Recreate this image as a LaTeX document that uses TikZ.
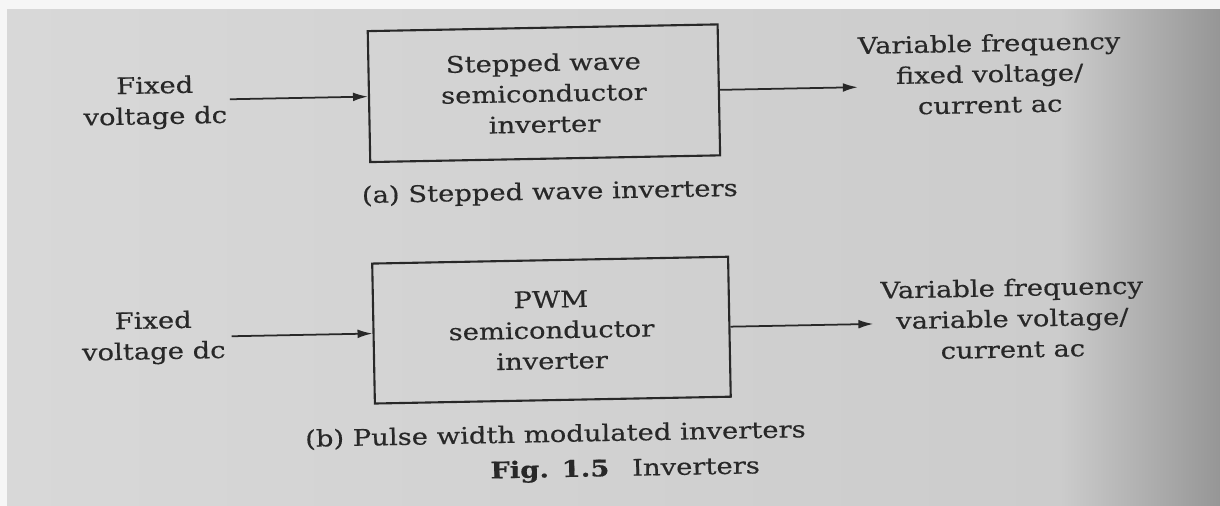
\documentclass[tikz,border=0pt]{standalone}
\usepackage{fontspec}
\setmainfont{DejaVu Serif}[FakeStretch=1.2, FakeBold=0.4]
\usetikzlibrary{arrows.meta}
\definecolor{tinta}{RGB}{40,40,40}
\definecolor{papel}{RGB}{216,216,216}
\definecolor{papelmedio}{RGB}{204,204,204}
\definecolor{papeloscuro}{RGB}{150,150,150}
\definecolor{margen}{RGB}{246,246,246}
\tikzset{
  bloque/.style={draw=tinta, line width=1.2pt, align=center},
  texto/.style={align=center},
  flecha/.style={draw=tinta, line width=1pt, -{Latex[length=8.5pt,width=5pt]}}
}
\begin{document}
\begin{tikzpicture}[x=0.02cm, y=-0.02cm, font=\fontsize{13}{17.5}\selectfont, text=tinta]
    % Fondo: margen blanco y hoja gris
    \useasboundingbox (0,0) rectangle (1220,506);
    \fill[margen] (0,0) rectangle (1220,506);
    \shade[left color=papel, right color=papelmedio] (7,10) rectangle (1060,506);
    \shade[left color=papelmedio, right color=papeloscuro] (1060,10) rectangle (1220,506);
    % La foto esta un poco girada
    \begin{scope}[rotate around={1.1:(610,253)}, transform shape]
    % (a) Inversor de onda escalonada
    \node[bloque, minimum width=7cm, minimum height=2.62cm] (inva) at (547,92) {Stepped wave\\semiconductor\\inverter};
    \node[texto] (dca) at (158,94) {Fixed\\voltage dc};
    \node[texto] (aca) at (993,81) {Variable frequency\\fixed voltage/\\current ac};
    \node[texto] (pieA) at (551,192) {(a) Stepped wave inverters};
    \coordinate (entA) at (233,92);
    \coordinate (salA) at (861,92);
    \draw[flecha] (entA) -- (inva);
    \draw[flecha] (inva) -- (salA);
    % (b) Inversor PWM
    \node[bloque, minimum width=7.12cm, minimum height=2.8cm] (invb) at (550,329) {PWM\\semiconductor\\inverter};
    \node[texto] (dcb) at (152,329) {Fixed\\voltage dc};
    \node[texto] (acb) at (1011,326) {Variable frequency\\variable voltage/\\current ac};
    \node[texto] (pieB) at (552,434) {(b) Pulse width modulated inverters};
    \node[texto] (fig) at (621,470) {\textbf{Fig. 1.5}\quad Inverters};
    \coordinate (entB) at (230,329);
    \coordinate (salB) at (872,329);
    \draw[flecha] (entB) -- (invb);
    \draw[flecha] (invb) -- (salB);
    \end{scope}
\end{tikzpicture}
\end{document}
